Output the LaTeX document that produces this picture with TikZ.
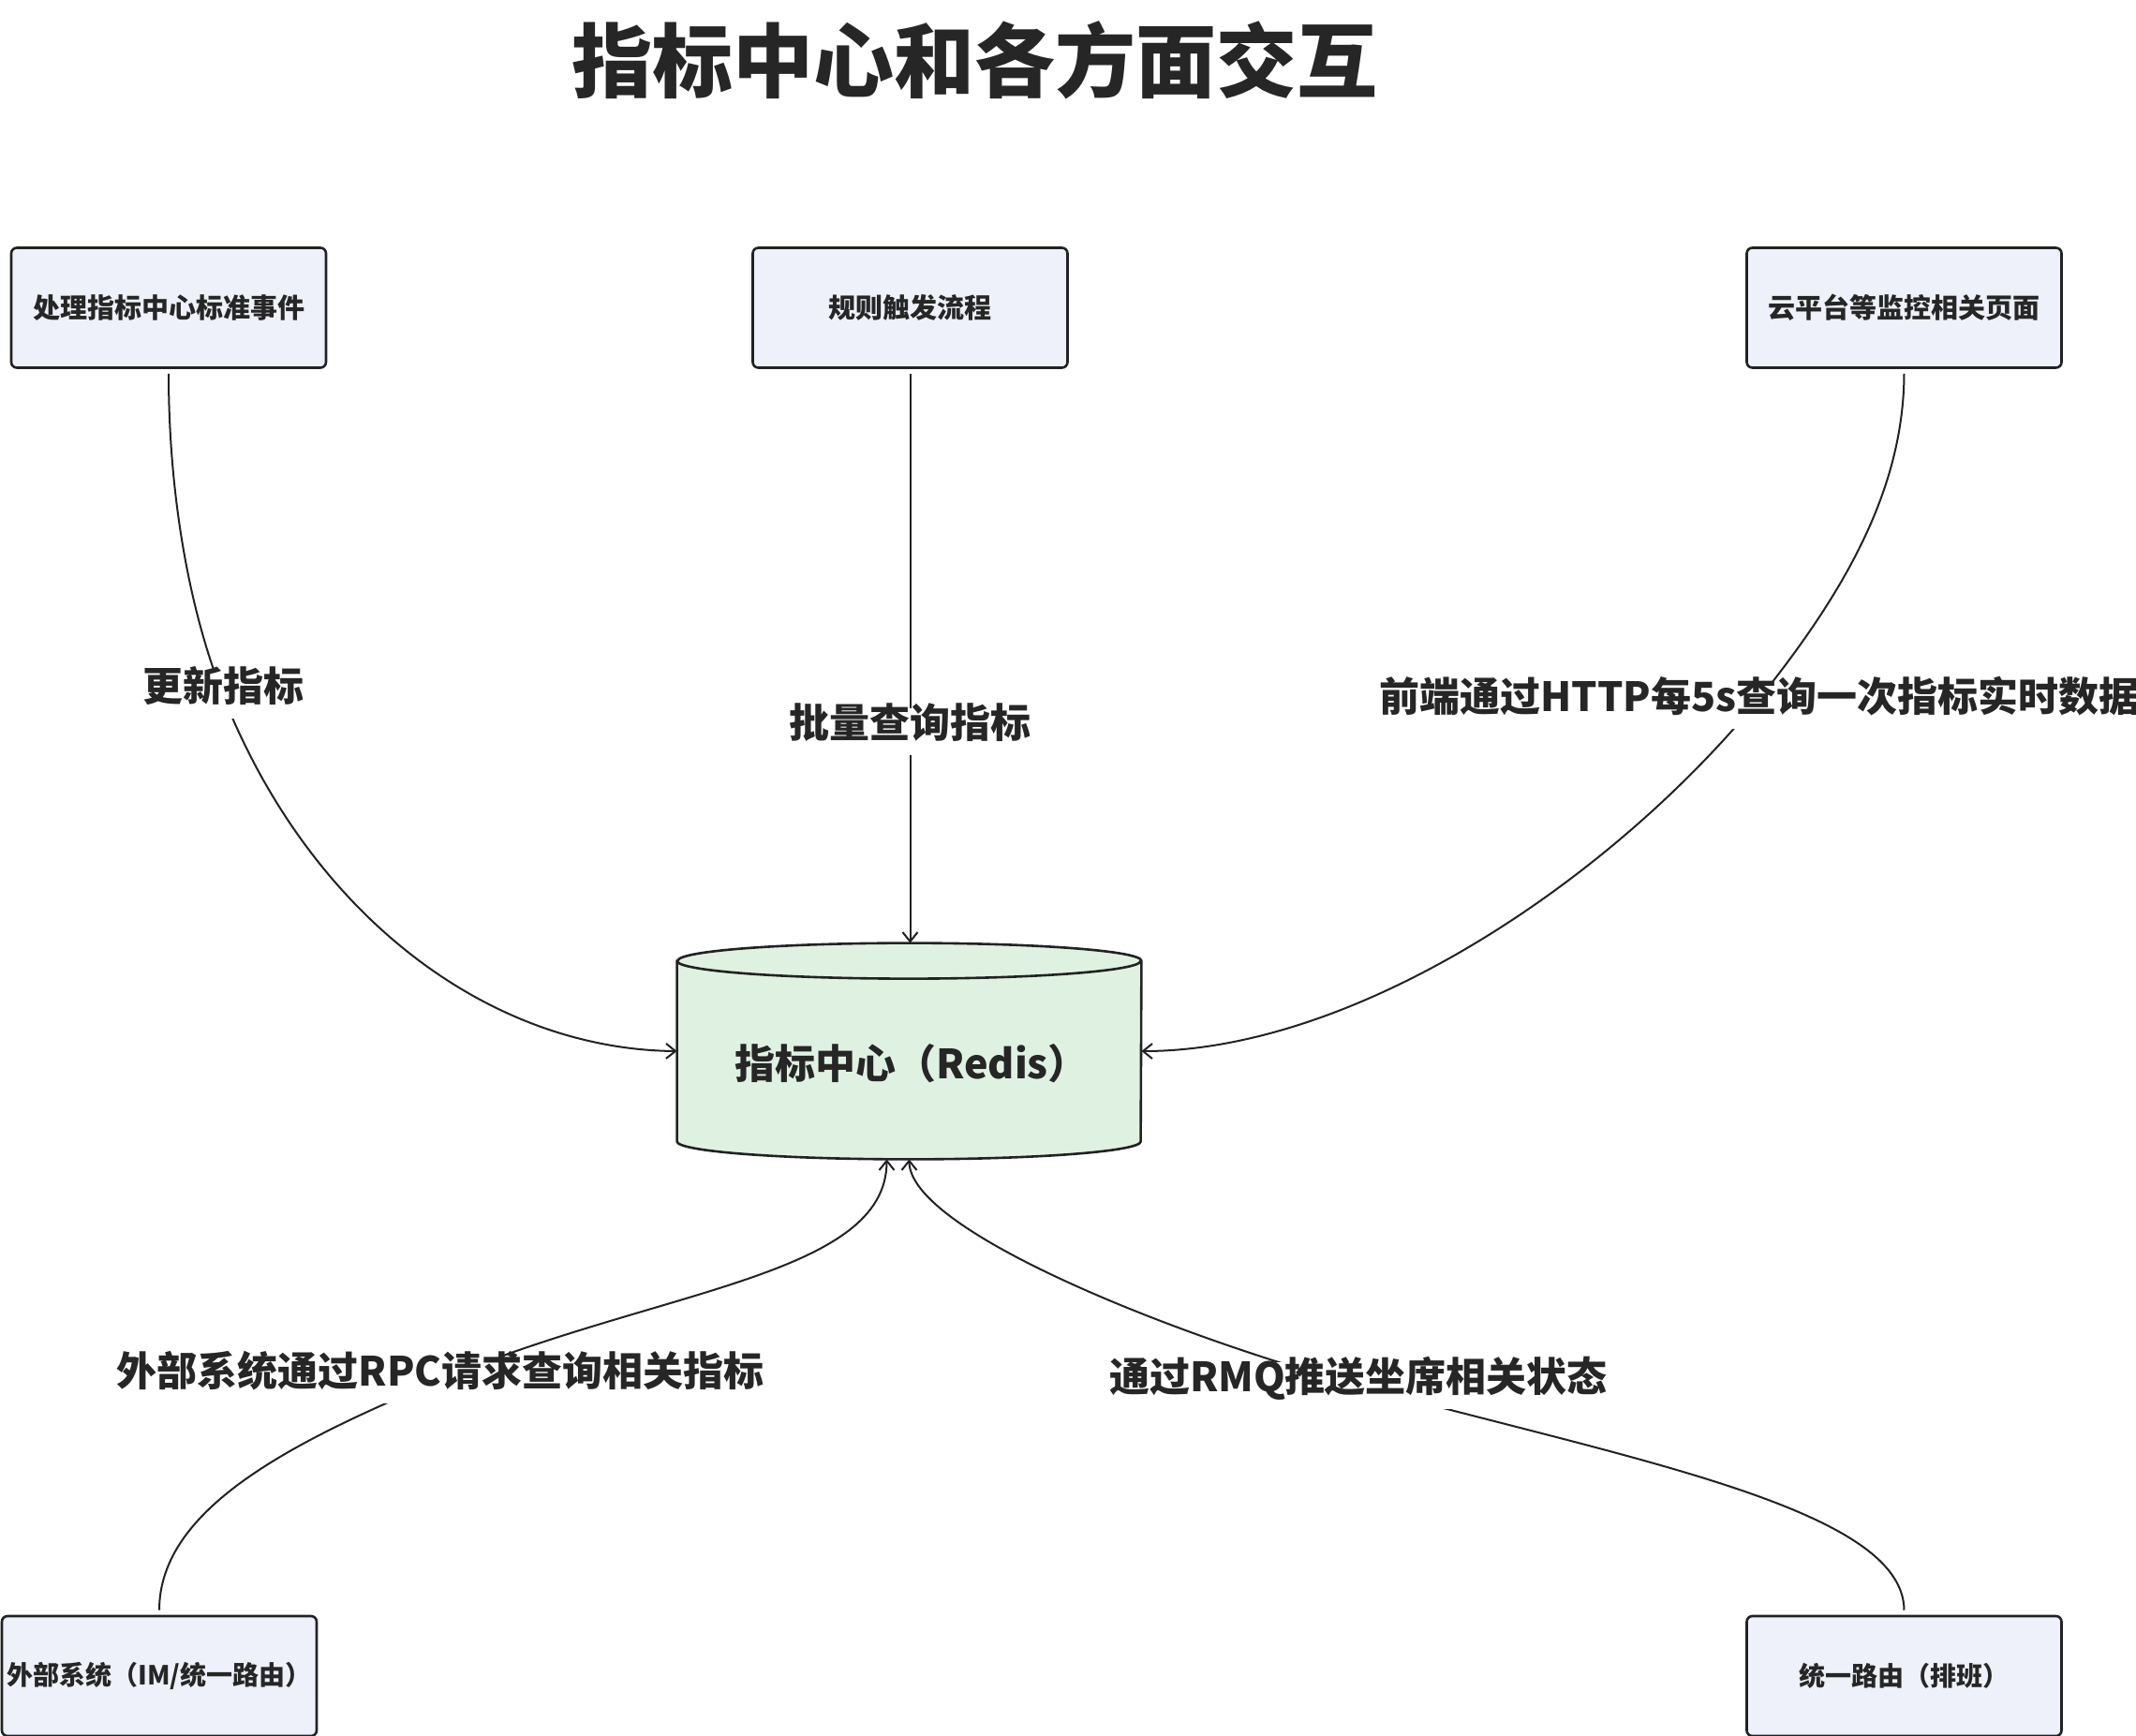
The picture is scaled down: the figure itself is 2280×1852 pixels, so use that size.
\documentclass[tikz,border=0pt]{standalone}
\usepackage{fontspec}
\setmainfont{Noto Sans CJK SC}
\usetikzlibrary{arrows.meta}
\definecolor{linec}{HTML}{222222}
\definecolor{txt}{HTML}{262626}
\definecolor{boxfill}{HTML}{EEF1F9}
\definecolor{cylfill}{HTML}{DFF2E2}
\tikzset{
  box/.style={draw=linec, line width=1.3pt, fill=boxfill, rounded corners=3pt,
    minimum width=168pt, minimum height=64pt, inner sep=0pt, text=txt,
    font={\fontsize{14.5pt}{17pt}\selectfont\bfseries}},
  smallbox/.style={box, font={\fontsize{14pt}{17pt}\selectfont\bfseries}},
  elabel/.style={fill=white, inner xsep=3pt, inner ysep=7.5pt, text height=0.8em,
    text depth=0.2em, text=txt, font={\fontsize{21.5pt}{26pt}\selectfont\bfseries}},
  cyltext/.style={inner sep=0pt, text=txt, font={\fontsize{21.5pt}{26pt}\selectfont\bfseries}},
  cylnode/.style={inner sep=0pt, minimum width=247.5pt, minimum height=115pt},
  edge/.style={draw=linec, line width=1pt, -{Straight Barb[length=5pt,width=8pt]},
    shorten <=2.5pt},
  titletext/.style={text=txt, inner sep=0pt, font={\fontsize{43pt}{50pt}\selectfont\bfseries}}
}
\begin{document}
\begin{tikzpicture}[x=0.5pt, y=0.5pt]
\useasboundingbox (0,0) rectangle (2280,-1852);
\fill[white] (0,0) rectangle (2280,-1852);

% title
\node[titletext] (title) at (1040,-64) {指标中心和各方面交互};

% boxes
\node[box] (b1) at (180,-328.5) {处理指标中心标准事件};
\node[box] (b2) at (971.5,-328.5) {规则触发流程};
\node[box] (b3) at (2032.5,-328.5) {云平台等监控相关页面};
\node[smallbox] (b4) at (170,-1789) {外部系统（IM/统一路由）};
\node[smallbox] (b5) at (2032.5,-1789) {统一路由（排班）};

% cylinder
\node[cylnode] (cyl) at (970.5,-1122) {};
\path[fill=cylfill, draw=linec, line width=1.3pt]
  ([yshift=-9.5pt]cyl.north west) -- ([yshift=9.5pt]cyl.south west)
  arc[start angle=180, end angle=360, x radius=123.75pt, y radius=9.5pt]
  -- ([yshift=-9.5pt]cyl.north east)
  arc[start angle=0, end angle=180, x radius=123.75pt, y radius=9.5pt] -- cycle;
\draw[linec, line width=1.3pt] ([yshift=-9.5pt]cyl.north west)
  arc[start angle=180, end angle=360, x radius=123.75pt, y radius=9.5pt];
\node[cyltext] (cyllabel) at (973,-1135) {指标中心（Redis）};

% label anchor points on the connectors
\coordinate (m1) at (238,-742);
\coordinate (m2) at (971.5,-781);
\coordinate (m3) at (1872,-753);
\coordinate (m4) at (470,-1473);
\coordinate (m5) at (1450,-1479);

% connectors
\draw[edge] (b1.south) .. controls (180,-515) and (198,-640) .. (m1)
  .. controls (330,-975) and (520,-1120) .. (cyl.west);
\draw[edge] (b2.south) -- (b2.south |- cyl.north);
\draw[edge] (b3.south) .. controls (2032,-525) and (1966,-637) .. (m3)
  .. controls (1712,-945) and (1444,-1122) .. (cyl.east);
\draw[edge] (b4.north) .. controls (170,-1610) and (312,-1539) .. (m4)
  .. controls (700,-1376) and (946.5,-1363) .. ([xshift=-12pt]cyl.south);
\draw[edge] (b5.north) .. controls (2032,-1610) and (1740,-1558) .. (m5)
  .. controls (1257,-1427) and (970.5,-1314) .. (cyl.south);

% connector labels
\node[elabel] (l1) at (m1) {更新指标};
\node[elabel] (l2) at (m2) {批量查询指标};
\node[elabel, anchor=west] (l3) at (1466,-753) {前端通过HTTP每5s查询一次指标实时数据};
\node[elabel] (l4) at (m4) {外部系统通过RPC请求查询相关指标};
\node[elabel] (l5) at (m5) {通过RMQ推送坐席相关状态};
\end{tikzpicture}
\end{document}
